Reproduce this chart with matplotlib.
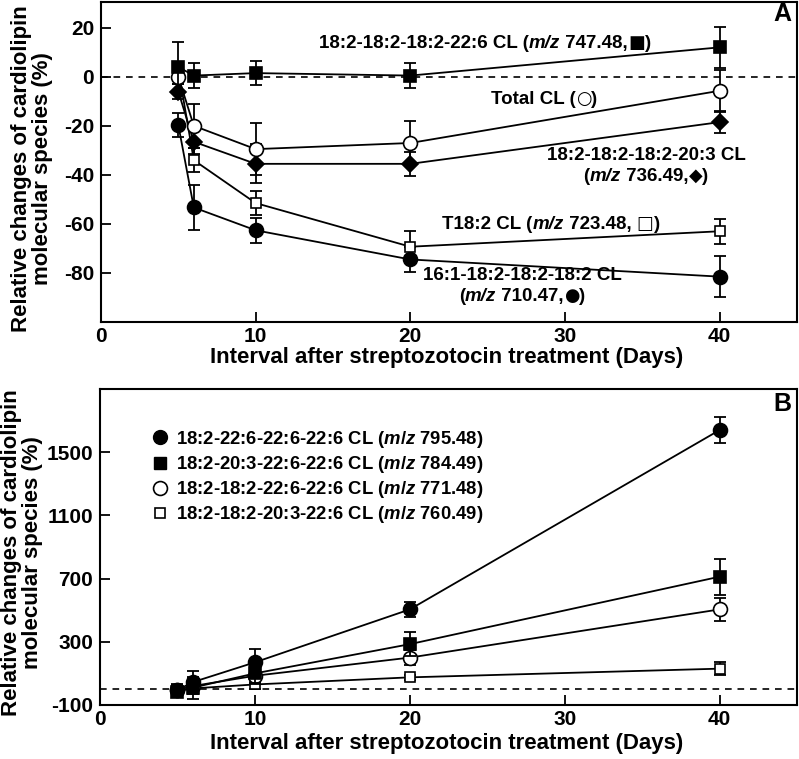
import matplotlib
matplotlib.use("Agg")
import matplotlib.pyplot as plt
from matplotlib.lines import Line2D
from matplotlib.offsetbox import TextArea, HPacker, VPacker, AnnotationBbox

plt.rcParams['font.family'] = ['Liberation Sans', 'DejaVu Sans']
plt.rcParams['font.weight'] = 'bold'
plt.rcParams['axes.unicode_minus'] = False
plt.rcParams['mathtext.fontset'] = 'custom'
plt.rcParams['mathtext.it'] = 'Liberation Sans:italic:bold'
plt.rcParams['mathtext.rm'] = 'Liberation Sans:bold'
plt.rcParams['mathtext.bf'] = 'Liberation Sans:bold'

# ---------------- data ----------------
days = [5, 6, 10, 20, 40]

# Panel A
a_747 = [4, 0.5, 1.5, 0.5, 12]
a_747_err = [10, 5, 5, 5, 8.5]
a_total = [0, -20, -29.5, -27, -5.7]
a_total_err = [3, 9, 10.5, 9, 8.5]
a_736 = [-6, -26.5, -35.5, -35.5, -18.5]
a_736_err = [3, 5, 8, 5, 4.5]
a_723 = [3, -34, -51.5, -69.3, -63]
a_723_err = [3, 5, 5, 6.5, 5]
a_710 = [-19.7, -53.3, -62.6, -74.5, -81.5]
a_710_err = [5, 9, 5, 5, 8.5]

# Panel B
b_795 = [-5, 45, 170, 505, 1640]
b_795_err = [40, 70, 85, 50, 80]
b_784 = [-15, 10, 100, 285, 712]
b_784_err = [35, 70, 60, 75, 115]
b_771 = [-5, 20, 85, 200, 505]
b_771_err = [30, 50, 55, 50, 72]
b_760 = [-10, 5, 30, 75, 130]
b_760_err = [20, 30, 30, 15, 40]

xticks = [0, 10, 20, 30, 40]
a_yticks = [-80, -60, -40, -20, 0, 20]
b_yticks = [-100, 300, 700, 1100, 1500]

# annotation pieces: (text, kind)  kind: 'b' bold, 'i' bold italic, 's' symbol
ann_747 = [[("18:2-18:2-18:2-22:6 CL (", 'b'), ("m/z", 'i'), (" 747.48,", 'b'), ("■", 's'), (")", 'b')]]
ann_total = [[("Total CL (", 'b'), ("○", 's'), (")", 'b')]]
ann_736 = [[("18:2-18:2-18:2-20:3 CL", 'b')],
           [("(", 'b'), ("m/z", 'i'), (" 736.49,", 'b'), ("◆", 's'), (")", 'b')]]
ann_723 = [[("T18:2 CL (", 'b'), ("m/z", 'i'), (" 723.48, ", 'b'), ("□", 's'), (")", 'b')]]
ann_710 = [[("16:1-18:2-18:2-18:2 CL", 'b')],
           [("(", 'b'), ("m/z", 'i'), (" 710.47,", 'b'), ("●", 's'), (")", 'b')]]

b_labels = [
    r"18:2-22:6-22:6-22:6 CL ($m/z$ 795.48)",
    r"18:2-20:3-22:6-22:6 CL ($m/z$ 784.49)",
    r"18:2-18:2-22:6-22:6 CL ($m/z$ 771.48)",
    r"18:2-18:2-20:3-22:6 CL ($m/z$ 760.49)",
]

TICK_FS = 15
LABEL_FS = 16
YLAB_FS = 16
ANN_FS = 13.5
LEG_FS = 13.3

fig = plt.figure(figsize=(7.99, 7.59), dpi=100)
axA = fig.add_axes([101/799, 1 - 322/759, 696/799, 320/759])
axB = fig.add_axes([100/799, 1 - 705/759, 697/799, 316/759])


def series(ax, y, err, marker, filled, ms, z):
    fc = 'black' if filled else 'white'
    ax.errorbar(days, y, yerr=err, fmt='none', ecolor='black', elinewidth=1.3,
                capsize=4, capthick=1.3, zorder=z)
    ax.plot(days, y, color='black', lw=1.3, marker=marker, ms=ms,
            mfc=fc, mec='black', mew=1.2, zorder=z + 0.5)


def style(ax, ylim, yticks):
    ax.set_xlim(0, 45)
    ax.set_ylim(*ylim)
    ax.set_xticks(xticks)
    ax.set_yticks(yticks)
    ax.tick_params(direction='in', length=7, width=1.3, labelsize=TICK_FS, pad=5)
    ax.tick_params(axis='x', pad=3.5)
    for lab in ax.get_xticklabels() + ax.get_yticklabels():
        lab.set_fontweight('bold')
    for sp in ax.spines.values():
        sp.set_linewidth(1.5)
    ax.axhline(0, color='black', lw=1.2, ls=(0, (4, 3.5)), zorder=1)


def rich(ax, lines, x, y, fs):
    rows = []
    for line in lines:
        parts = []
        for txt, kind in line:
            props = dict(fontsize=fs, fontweight='bold', color='black')
            if kind == 'i':
                props['fontstyle'] = 'italic'
                props['family'] = 'Liberation Sans'
            elif kind == 's':
                props['family'] = 'DejaVu Sans'
                props['fontsize'] = fs * 0.95
            else:
                props['family'] = 'Liberation Sans'
            parts.append(TextArea(txt, textprops=props))
        rows.append(HPacker(children=parts, align='baseline', pad=0, sep=0))
    box = rows[0] if len(rows) == 1 else VPacker(children=rows, align='center', pad=0, sep=2)
    ab = AnnotationBbox(box, (x / 799, 1 - y / 759), xycoords='figure fraction',
                        frameon=False, box_alignment=(0.5, 0.5), pad=0)
    ax.add_artist(ab)


# ---- Panel A ----
style(axA, (-100, 30.5), a_yticks)
series(axA, a_710, a_710_err, 'o', True, 10, 3)
series(axA, a_723, a_723_err, 's', False, 7, 4)
series(axA, a_736, a_736_err, 'D', True, 8, 5)
series(axA, a_total, a_total_err, 'o', False, 10, 6)
series(axA, a_747, a_747_err, 's', True, 8.5, 7)

rich(axA, ann_747, 485, 43, ANN_FS)
rich(axA, ann_total, 544, 99, ANN_FS)
rich(axA, ann_736, 646, 166, ANN_FS)
rich(axA, ann_723, 551, 224, ANN_FS)
rich(axA, ann_710, 522, 286, ANN_FS)
fig.text(782 / 799, 1 - 14 / 759, "A", ha='center', va='center',
         fontsize=18, fontweight='bold')

# ---- Panel B ----
style(axB, (-100, 1900), b_yticks)
series(axB, b_760, b_760_err, 's', False, 7, 3)
series(axB, b_771, b_771_err, 'o', False, 10, 4)
series(axB, b_784, b_784_err, 's', True, 8.5, 5)
series(axB, b_795, b_795_err, 'o', True, 10, 6)

handles = [
    Line2D([], [], ls='none', marker='o', ms=10, mfc='black', mec='black'),
    Line2D([], [], ls='none', marker='s', ms=8, mfc='black', mec='black'),
    Line2D([], [], ls='none', marker='o', ms=10, mfc='white', mec='black', mew=1.2),
    Line2D([], [], ls='none', marker='s', ms=7, mfc='white', mec='black', mew=1.2),
]
leg = axB.legend(handles, b_labels, loc='upper left', bbox_to_anchor=(0.065, 0.897),
                 frameon=False, fontsize=LEG_FS, handlelength=0.8, handletextpad=0.45,
                 labelspacing=0.22, borderaxespad=0)
for t in leg.get_texts():
    t.set_fontweight('bold')
fig.text(782 / 799, 1 - 404 / 759, "B", ha='center', va='center',
         fontsize=18, fontweight='bold')

# ---- axis labels ----
ylab = "Relative changes of cardiolipin\nmolecular species (%)"
fig.text(32 / 799, 1 - 169 / 759, ylab, rotation=90, ha='center', va='center',
         fontsize=YLAB_FS, fontweight='bold', linespacing=1.0)
fig.text(22 / 799, 1 - 553 / 759, ylab, rotation=90, ha='center', va='center',
         fontsize=YLAB_FS, fontweight='bold', linespacing=1.0)
xlab = "Interval after streptozotocin treatment (Days)"
fig.text(447 / 799, 1 - 358 / 759, xlab, ha='center', va='center',
         fontsize=LABEL_FS, fontweight='bold')
fig.text(447 / 799, 1 - 744 / 759, xlab, ha='center', va='center',
         fontsize=LABEL_FS, fontweight='bold')

fig.savefig("out.png", dpi=100)
